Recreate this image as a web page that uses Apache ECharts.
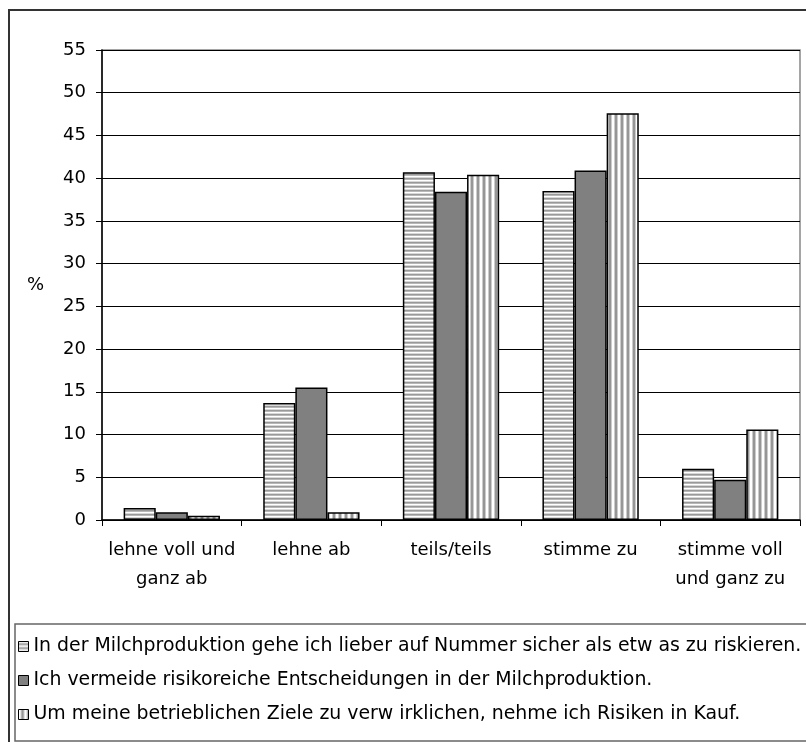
<!DOCTYPE html>
<html>
<head>
<meta charset="utf-8">
<script src="https://cdn.jsdelivr.net/npm/echarts@6/dist/echarts.min.js"></script>
<style>
  html, body { margin: 0; padding: 0; background: #fff; }
  #chart { width: 806px; height: 742px; }
</style>
</head>
<body>
<div id="chart"></div>
<script>
// Answer categories (x axis)
const categories = [
  'lehne voll und\nganz ab',
  'lehne ab',
  'teils/teils',
  'stimme zu',
  'stimme voll\nund ganz zu'
];

// Statement labels (legend)
const seriesNames = [
  'In der Milchproduktion gehe ich lieber auf Nummer sicher als etw as zu riskieren.',
  'Ich vermeide risikoreiche Entscheidungen in der Milchproduktion.',
  'Um meine betrieblichen Ziele zu verw irklichen, nehme ich Risiken in Kauf.'
];

// Share of answers in percent
const sicherValues = [1.4, 13.7, 40.7, 38.5, 6.0];
const vermeideValues = [0.9, 15.5, 38.4, 40.9, 4.7];
const risikenValues = [0.5, 0.9, 40.4, 47.6, 10.6];

// Y axis ticks
const yMin = 0;
const yMax = 55;
const yStep = 5;

// Stripe fills
function stripes(horizontal, colors) {
  const c = document.createElement('canvas');
  const n = colors.length;
  c.width = horizontal ? 4 : n;
  c.height = horizontal ? n : 4;
  const ctx = c.getContext('2d');
  colors.forEach((col, i) => {
    ctx.fillStyle = col;
    if (horizontal) ctx.fillRect(0, i, c.width, 1);
    else ctx.fillRect(i, 0, 1, c.height);
  });
  return { image: c, repeat: 'repeat' };
}

const hStripe = stripes(true, ['#ffffff', '#d8d8d8', '#999999', '#b8b8b8']);
const solidGray = '#808080';
const vStripe = stripes(false, ['#ffffff', '#ffffff', '#cccccc', '#969696', '#969696', '#cccccc']);

const fontFamily = '"DejaVu Sans", "Liberation Sans", Arial, sans-serif';

function barSeries(name, data, fill) {
  return {
    name: name,
    type: 'bar',
    data: data,
    barGap: '0%',
    barCategoryGap: '31%',
    itemStyle: { color: fill, borderColor: '#000', borderWidth: 1.5 },
    emphasis: { disabled: true }
  };
}

const chart = echarts.init(document.getElementById('chart'), null, { renderer: 'canvas' });

chart.setOption({
  animation: false,
  backgroundColor: '#fff',
  textStyle: { fontFamily: fontFamily },
  graphic: [
    {
      type: 'rect',
      shape: { x: 9, y: 10, width: 900, height: 800 },
      style: { fill: 'none', stroke: '#333', lineWidth: 2 },
      z: 0
    },
    {
      type: 'rect',
      shape: { x: 15, y: 624, width: 820, height: 117 },
      style: { fill: 'none', stroke: '#666', lineWidth: 1.5 },
      z: 0
    }
  ],
  grid: {
    left: 102,
    right: 6,
    top: 50,
    bottom: 222,
    show: true,
    borderColor: '#888',
    borderWidth: 1.5,
    containLabel: false
  },
  legend: {
    orient: 'vertical',
    left: 13,
    top: 632,
    itemWidth: 10,
    itemHeight: 10,
    itemGap: 15,
    icon: 'rect',
    selectedMode: false,
    data: seriesNames,
    itemStyle: { borderColor: '#000', borderWidth: 1 },
    textStyle: { fontSize: 18.9, lineHeight: 19, color: '#000', fontFamily: fontFamily }
  },
  xAxis: {
    type: 'category',
    data: categories,
    axisLine: { show: true, lineStyle: { color: '#000', width: 1.5 } },
    axisTick: { show: true, alignWithLabel: false, length: 6, lineStyle: { color: '#000' } },
    axisLabel: {
      fontSize: 18,
      color: '#000',
      margin: 16,
      lineHeight: 29,
      interval: 0,
      fontFamily: fontFamily
    }
  },
  yAxis: {
    type: 'value',
    min: yMin,
    max: yMax,
    interval: yStep,
    name: '%',
    nameLocation: 'middle',
    nameRotate: 0,
    nameGap: 58,
    nameTextStyle: { fontSize: 18, color: '#000', fontFamily: fontFamily },
    axisLine: { show: true, lineStyle: { color: '#000', width: 1.5 } },
    axisTick: { show: true, length: 6, lineStyle: { color: '#000' } },
    axisLabel: { fontSize: 18, color: '#000', margin: 16, fontFamily: fontFamily },
    splitLine: { show: true, lineStyle: { color: '#000', width: 1 } }
  },
  series: [
    barSeries(seriesNames[0], sicherValues, hStripe),
    barSeries(seriesNames[1], vermeideValues, solidGray),
    barSeries(seriesNames[2], risikenValues, vStripe)
  ]
});
</script>
</body>
</html>
